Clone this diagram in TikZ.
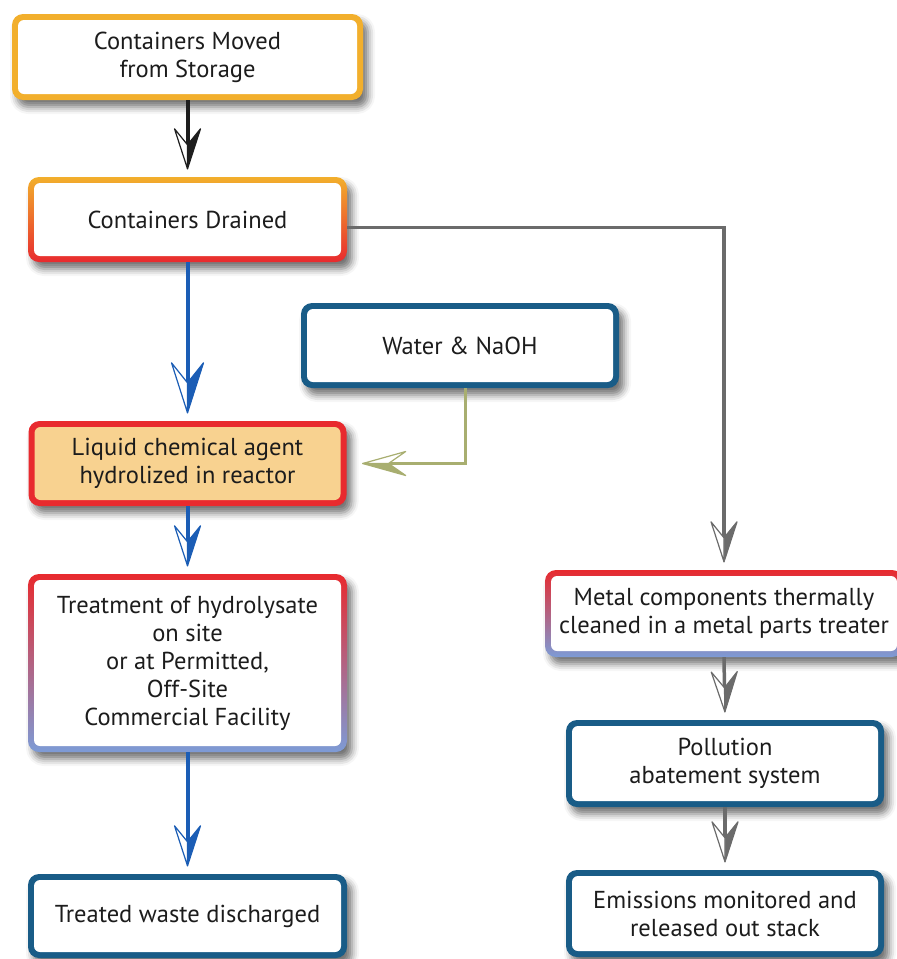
\documentclass[tikz,border=0pt]{standalone}
\usepackage{fontspec}
\setmainfont{PT Sans}
\usetikzlibrary{arrows.meta,shadows.blur}

\pgfdeclarearrow{
  name = SplitBarb,
  parameters = {\the\pgfarrowlength,\the\pgfarrowwidth},
  setup code = {
    \pgfarrowssettipend{0pt}
    \pgfarrowssetlineend{-.6\pgfarrowlength}
    \pgfarrowssetbackend{-\pgfarrowlength}
    \pgfarrowshullpoint{0pt}{0pt}
    \pgfarrowshullpoint{-\pgfarrowlength}{.5\pgfarrowwidth}
    \pgfarrowshullpoint{-\pgfarrowlength}{-.5\pgfarrowwidth}
    \pgfarrowssavethe\pgfarrowlength
    \pgfarrowssavethe\pgfarrowwidth
  },
  drawing code = {
    \pgfsetlinewidth{1.2pt}
    \pgfsetroundjoin
    \pgfpathmoveto{\pgfqpoint{0pt}{0pt}}
    \pgfpathlineto{\pgfqpoint{-\pgfarrowlength}{.5\pgfarrowwidth}}
    \pgfpathlineto{\pgfqpoint{-.6\pgfarrowlength}{0pt}}
    \pgfpathclose
    \pgfusepathqfillstroke
    \pgfsetfillcolor{white}
    \pgfpathmoveto{\pgfqpoint{0pt}{0pt}}
    \pgfpathlineto{\pgfqpoint{-\pgfarrowlength}{-.5\pgfarrowwidth}}
    \pgfpathlineto{\pgfqpoint{-.6\pgfarrowlength}{0pt}}
    \pgfpathclose
    \pgfusepathqfillstroke
  },
  defaults = {length = 40pt, width = 26pt}
}

\definecolor{cOrange}{HTML}{F2AF2C}
\definecolor{cRed}{HTML}{E82A2E}
\definecolor{cLblue}{HTML}{7D9BD6}
\definecolor{cNavy}{HTML}{195C87}
\definecolor{cPeach}{HTML}{F8D290}
\definecolor{cBlueArr}{HTML}{1B5DB5}
\definecolor{cGray}{HTML}{6B6B6B}
\definecolor{cGreen}{HTML}{A8AE70}
\definecolor{cBlack}{HTML}{1E1E1E}
\definecolor{cText}{HTML}{1C1C1C}

\tikzset{
  boxfill/.store in=\boxinnerfill,
  box/.style={rounded corners=11pt, inner sep=0pt, align=center, text=cText,
    font=\fontsize{24.5}{28}\selectfont,
    blur shadow={shadow xshift=5pt, shadow yshift=-7pt, shadow blur radius=7pt, shadow opacity=55},
    boxfill=white,
    path picture={\fill[fill=\boxinnerfill, rounded corners=6pt]
      ([shift={(6pt,-6pt)}]path picture bounding box.north west) rectangle
      ([shift={(-6pt,6pt)}]path picture bounding box.south east);}},
  conn/.style={line width=4pt, shorten >=8pt, -{SplitBarb}},
  blk/.style={conn, draw=cBlack},
  blu/.style={conn, draw=cBlueArr},
  gry/.style={conn, draw=cGray, line width=3.5pt},
  grn/.style={conn, draw=cGreen, line width=3pt},
}

\begin{document}
\begin{tikzpicture}[x=1pt, y=-1pt]
\useasboundingbox (0,0) rectangle (897,959);

\node[box, fill=cOrange, minimum width=351pt, minimum height=86pt] (moved) at (187.5,57) {Containers Moved\\from Storage};
\node[box, top color=cOrange, bottom color=cRed, minimum width=319pt, minimum height=85pt] (drained) at (187.5,219.5) {Containers Drained};
\node[box, fill=cNavy, minimum width=318pt, minimum height=85pt] (water) at (460,345.5) {Water \& NaOH};
\node[box, fill=cRed, boxfill=cPeach, minimum width=318pt, minimum height=85pt] (liquid) at (187.5,463.5) {Liquid chemical agent\\hydrolized in reactor};
\node[box, top color=cRed, bottom color=cLblue, minimum width=319pt, minimum height=178pt] (treat) at (187.5,663) {Treatment of hydrolysate\\on site\\or at Permitted,\\Off-Site\\Commercial Facility};
\node[box, fill=cNavy, minimum width=319pt, minimum height=84pt] (waste) at (187.5,916) {Treated waste discharged};
\node[box, top color=cRed, bottom color=cLblue, minimum width=358pt, minimum height=87pt] (metal) at (724,613.5) {Metal components thermally\\cleaned in a metal parts treater};
\node[box, fill=cNavy, minimum width=318pt, minimum height=87pt] (poll) at (725,763.5) {Pollution\\abatement system};
\node[box, fill=cNavy, minimum width=318pt, minimum height=87pt] (emis) at (725,913.5) {Emissions monitored and\\released out stack};

\draw[blk] (moved.south) -- (drained.north);
\draw[blu, -{SplitBarb[length=50pt,width=32pt]}] (drained.south) -- (liquid.north);
\draw[blu] (liquid.south) -- (treat.north);
\draw[blu] (treat.south) -- (waste.north);
\draw[gry] ([yshift=-8pt]drained.east) -| (metal.north);
\draw[gry] (metal.south) -- (poll.north);
\draw[gry] (poll.south) -- (emis.north);
\draw[grn, shorten >=16pt, -{SplitBarb[length=43pt,width=24pt]}] ([xshift=5pt]water.south) |- (liquid.east);
\end{tikzpicture}
\end{document}
